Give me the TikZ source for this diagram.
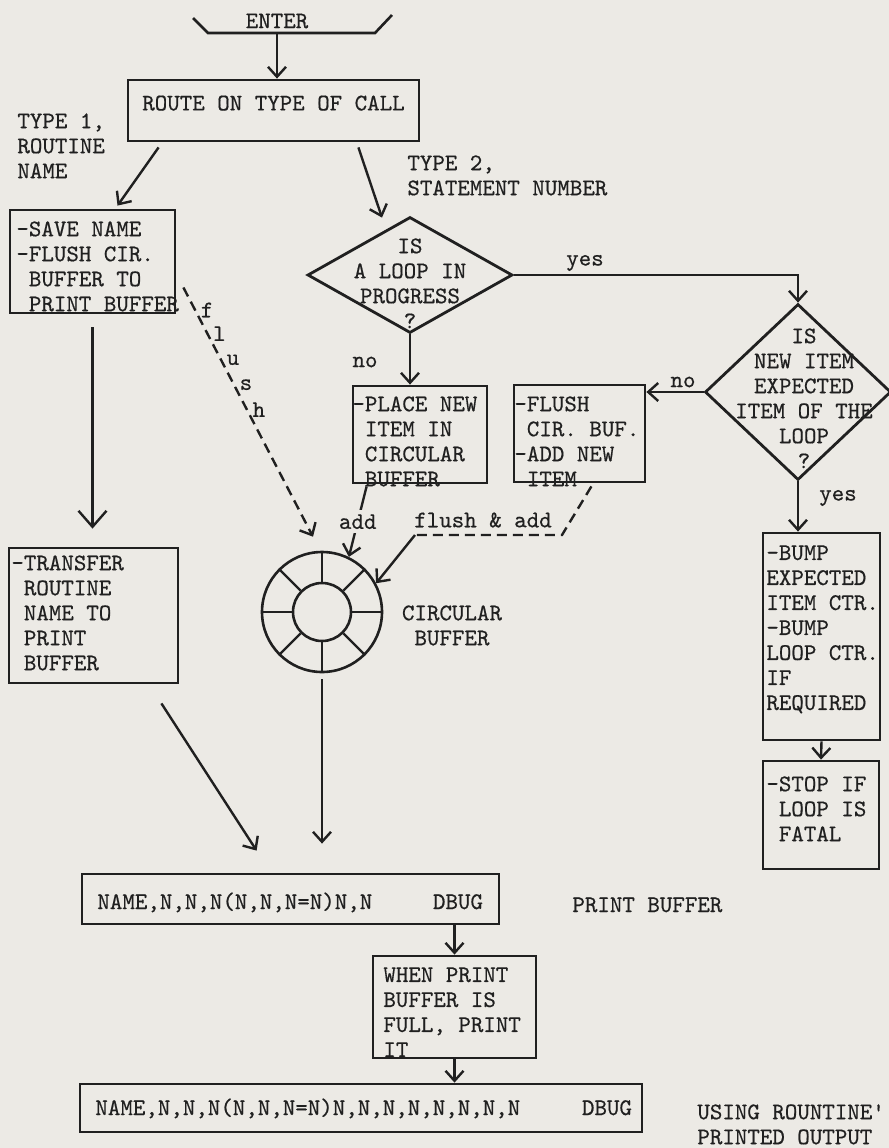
\documentclass[tikz,border=0pt]{standalone}
\usepackage{fontspec}
\usepackage{tikz}
\usetikzlibrary{positioning, arrows.meta, shapes.geometric, fit, calc}

\definecolor{paper}{RGB}{236,234,229}
\definecolor{ink}{RGB}{32,32,32}
\newfontfamily\twfont{lmmono10-regular.otf}[FakeBold=0.5]
\newcommand{\tytext}{\twfont\fontsize{11.9}{12.5}\selectfont}
\newcommand{\ind}{\hphantom{-}}

\begin{document}
\begin{tikzpicture}[
  x=0.5pt, y=-0.5pt, color=ink,
  box/.style={draw, rectangle, line width=1.4pt, inner sep=0pt, font=\tytext},
  dia/.style={draw, diamond, line width=1.4pt, inner sep=0pt},
  txt/.style={font=\tytext, align=left, inner sep=0pt, anchor=north west},
  lbl/.style={font=\tytext, inner sep=0pt},
  arrow/.style={-{Straight Barb[length=5pt,width=9pt]}, line width=1.2pt},
  bigarrow/.style={-{Straight Barb[length=8pt,width=14pt]}, line width=1.2pt},
  dashline/.style={dash pattern=on 5pt off 3pt, line width=1.2pt}
]
  \useasboundingbox[fill=paper] (0,0) rectangle (889,1148);

  \node[lbl] (enter) at (277,21) {ENTER};
  \coordinate (entbase) at ($(enter)+(0,12)$);
  \draw[line width=1.3pt] ($(enter)+(-84,-3)$) -- ($(enter)+(-69,12)$) -- ($(enter)+(98,12)$) -- ($(enter)+(115,-6)$);

  \node[box, fit={(128,80) (419,141)}] (route) {ROUTE ON TYPE OF CALL};
  \node[box, fit={(10,210) (175,313)}]   (save)     {};
  \node[box, fit={(9,548) (178,683)}]    (transfer) {};
  \node[box, fit={(353,386) (487,483)}]  (place)    {};
  \node[box, fit={(514,385) (645,482)}]  (flushbx)  {};
  \node[box, fit={(763,533) (880,740)}]  (bump)     {};
  \node[box, fit={(763,761) (879,869)}]  (stop)     {};
  \node[box, fit={(82,874) (499,924)}]   (pbuf)     {};
  \node[box, fit={(373,956) (536,1058)}] (when)     {};
  \node[box, fit={(80,1084) (642,1132)}] (pout)     {};

  \node[dia, minimum width=102.5pt, minimum height=58pt] (loopq) at (410,275) {};
  \node[dia, minimum width=93pt, minimum height=88pt]    (expq)  at (798,392) {};

  \node[draw, circle, line width=1.3pt, minimum size=60pt, inner sep=0pt] (cbuf)   at (322,612) {};
  \node[draw, circle, line width=1.3pt, minimum size=29pt, inner sep=0pt] (cbufin) at (322,612) {};
  \foreach \a in {0,45,...,315}
    \draw[line width=1.2pt] (cbufin.\a) -- (cbuf.\a);

  \node[txt] (type1)     at (17,113)  {TYPE 1,\\ROUTINE\\NAME};
  \node[txt] (type2)     at (407,155) {TYPE 2,\\STATEMENT NUMBER};
  \node[txt] (savetxt)   at (16,221)  {-SAVE NAME\\-FLUSH CIR.\\\ind BUFFER TO\\\ind PRINT BUFFER};
  \node[txt] (transtxt)  at (11,555)  {-TRANSFER\\\ind ROUTINE\\\ind NAME TO\\\ind PRINT\\\ind BUFFER};
  \node[txt] (placetxt)  at (352,396) {-PLACE NEW\\\ind ITEM IN\\\ind CIRCULAR\\\ind BUFFER};
  \node[txt] (flushtxt)  at (514,396) {-FLUSH\\\ind CIR. BUF.\\-ADD NEW\\\ind ITEM};
  \node[txt] (bumptxt)   at (766,545) {-BUMP\\EXPECTED\\ITEM CTR.\\-BUMP\\LOOP CTR.\\IF\\REQUIRED};
  \node[txt] (stoptxt)   at (766,776) {-STOP IF\\\ind LOOP IS\\\ind FATAL};
  \node[txt] (whentxt)   at (383,967) {WHEN PRINT\\BUFFER IS\\FULL, PRINT\\IT};
  \node[txt] (outlbl)    at (697,1104) {USING ROUNTINE'\\PRINTED OUTPUT};
  \node[txt, anchor=north, align=center] (loopqtxt) at (410,238) {IS\\A LOOP IN\\PROGRESS\\?};
  \node[txt, anchor=north, align=center] (expqtxt)  at (804,328) {IS\\NEW ITEM\\EXPECTED\\ITEM OF THE\\LOOP\\?};
  \node[txt, anchor=north, align=center] (cbuflbl)  at (452,605) {CIRCULAR\\BUFFER};

  \node[lbl, anchor=base west] (pbuftxt)  at (97,909)   {NAME,N,N,N(N,N,N=N)N,N};
  \node[lbl, anchor=base]      (pbufdbug) at (458,909)  {DBUG};
  \node[lbl, anchor=base west] (pbuflbl)  at (572,912)  {PRINT BUFFER};
  \node[lbl, anchor=base west] (pouttxt)  at (95,1115)  {NAME,N,N,N(N,N,N=N)N,N,N,N,N,N,N,N};
  \node[lbl, anchor=base]      (poutdbug) at (607,1115) {DBUG};

  \node[lbl] (yes1) at (585,263) {yes};
  \node[lbl] (no1)  at (365,362) {no};
  \node[lbl] (no2)  at (683,382) {no};
  \node[lbl] (yes2) at (838,498) {yes};
  \node[lbl] (fadd) at (483,520) {flush \& add};

  \draw[arrow] (entbase) -- (entbase |- route.north);
  \draw[arrow] ($(route.south west)+(32,5)$) -- ($(save.north)+(25,-3)$);
  \draw[arrow] ($(route.south east)+(-62,5)$) -- ($(loopq.north)+(-28,2)$);
  \draw[bigarrow, shorten <=6.5pt, shorten >=9pt] (save.south) -- (save.south |- transfer.north);
  \draw[arrow] ($(transfer.south east)+(-18,19)$) -- ($(pbuf.north west)+(176,-22)$);
  \draw[arrow, shorten <=3pt, shorten >=14.5pt] (cbuf.south) -- (cbuf.south |- pbuf.north);
  \draw[arrow] (loopq.south) -- (loopq.south |- place.north);
  \draw[arrow] (loopq.east) -| (expq.north);
  \draw[arrow] (expq.west) -- (expq.west -| flushbx.east);
  \draw[arrow] (expq.south) -- (expq.south |- bump.north);
  \draw[arrow] (bump.south) -- (stop.north);
  \draw[arrow] (pbuf.south -| when.north) -- (when.north);
  \draw[arrow] (when.south) -- (when.south |- pout.north);

  \coordinate (flA) at ($(save.east)+(7,26)$);
  \coordinate (flB) at ($(cbuf.north)+(-9,-14)$);
  \draw[dashline, arrow] (flA) -- (flB);
  \foreach \c/\p [count=\i] in {f/.09, l/.185, u/.29, s/.39, h/.49}
    \path (flA) -- (flB) node[lbl, pos=\p, xshift=6pt] (fl\i) {\c};

  \draw[arrow] ($(place.south west)+(15,2)$) -- (cbuf.64)
    node[lbl, midway, fill=paper, inner sep=2pt] (addlbl) {add};

  \coordinate (fa1) at (562,535);
  \coordinate (fa2) at (415,535);
  \draw[dashline] ($(flushbx.south east)+(-55,3)$) -- (fa1) -- (fa2);
  \draw[arrow] (fa2) -- (cbuf.28);
\end{tikzpicture}
\end{document}
